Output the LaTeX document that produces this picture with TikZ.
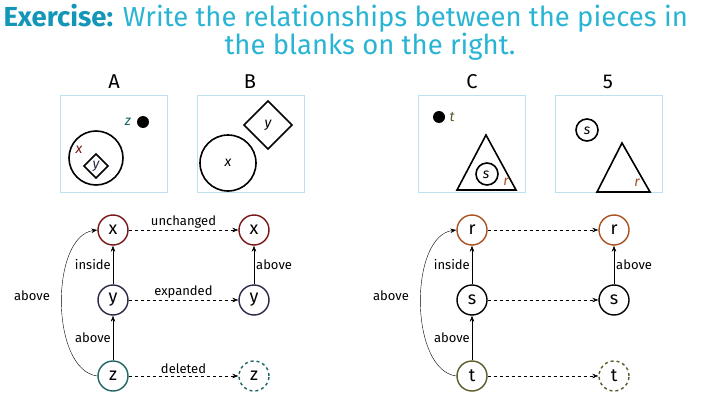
\documentclass[tikz,border=0pt]{standalone}
\usepackage{fontspec}
\setmainfont{Fira Sans}
\usetikzlibrary{arrows.meta}
\definecolor{tl}{RGB}{40,180,210}
\definecolor{tld}{RGB}{20,150,185}
\definecolor{bx}{RGB}{190,225,240}
\definecolor{cx}{RGB}{120,20,20}
\definecolor{cy}{RGB}{40,40,70}
\definecolor{cz}{RGB}{30,100,100}
\definecolor{cr}{RGB}{170,80,30}
\definecolor{ct}{RGB}{90,90,40}
\begin{document}
\begin{tikzpicture}[x=1pt,y=-1pt,
 gn/.style={circle,draw,line width=1.4pt,minimum size=30pt,inner sep=0pt,font=\fontsize{18}{20}\selectfont},
 da/.style={dashed,-{Stealth[length=6pt]},thin},
 sa/.style={-{Stealth[length=6pt]},thin},
 lb/.style={font=\fontsize{13}{15}\selectfont,inner sep=2pt},
 sl/.style={font=\fontsize{14}{16}\selectfont\itshape},
 frame/.style={draw=bx,line width=0.8pt},
 shp/.style={draw,line width=1.6pt}]
\useasboundingbox (0,0) rectangle (720,404);
\node[anchor=west,font=\fontsize{27.5}{30}\selectfont] (t1) at (0,18) {\textcolor{tld}{\bfseries Exercise:} \textcolor{tl}{Write the relationships between the pieces in}};
\node[font=\fontsize{27.5}{30}\selectfont,text=tl] (t2) at (370,47) {the blanks on the right.};
% headers
\foreach \n/\l/\x in {hA/A/114,hB/B/250,hC/C/472,h5/5/608}{\node[font=\fontsize{20}{22}\selectfont] (\n) at (\x,82) {\l};}
\foreach \x in {60,197,418,555}{\draw[frame] (\x,95) rectangle ++(107,97);}
% A
\draw[shp] (96,158) circle (27);
\draw[shp] (96,154) -- (108,166) -- (96,178) -- (84,166) -- cycle;
\node[text=cy,sl] (ay) at (96,166) {y};
\node[text=cx,sl] (ax) at (79,150) {x};
\node[text=cz,sl] (az) at (128,122) {z};
\fill (143,122) circle (6);
% B
\draw[shp] (228,163) circle (28);
\draw[shp] (268,101) -- (292,125) -- (268,149) -- (244,125) -- cycle;
\node[sl] (bx) at (228,163) {x};
\node[sl] (by) at (268,125) {y};
% C
\fill (439,117) circle (6);
\node[text=ct,sl] (ct) at (452,117) {t};
\draw[shp] (486,135) -- (516,190) -- (457,190) -- cycle;
\draw[shp] (487,174) circle (11);
\node[sl] (cs) at (486,175) {s};
\node[text=cr,sl] (cr) at (506,182) {r};
% 5
\draw[shp] (587,130) circle (11);
\node[sl] (fs) at (587,131) {s};
\draw[shp] (622,143) -- (650,192) -- (597,192) -- cycle;
\node[text=cr,sl] (fr) at (637,183) {r};
% graph left
\node[gn,draw=cx] (x1) at (113,230) {x};
\node[gn,draw=cy] (y1) at (113,300) {y};
\node[gn,draw=cz] (z1) at (113,376) {z};
\node[gn,draw=cx] (x2) at (254,230) {x};
\node[gn,draw=cy] (y2) at (254,300) {y};
\node[gn,draw=cz,dashed] (z2) at (254,376) {z};
\draw[da] (x1) -- node[lb,above]{unchanged} (x2);
\draw[da] (y1) -- node[lb,above]{expanded} (y2);
\draw[da] (z1) -- node[lb,above]{deleted} (z2);
\draw[sa] (y1) -- node[lb,left]{inside} (x1);
\draw[sa] (z1) -- node[lb,left]{above} (y1);
\draw[sa] (y2) -- node[lb,right]{above} (x2);
\draw[sa] (z1.west) .. controls (50,370) and (50,236) .. (x1.west);
\node[lb] (la1) at (32,296) {above};
% graph right
\node[gn,draw=cr] (r1) at (472,230) {r};
\node[gn,draw=black] (s1) at (472,300) {s};
\node[gn,draw=ct] (t1n) at (472,376) {t};
\node[gn,draw=cr] (r2) at (614,230) {r};
\node[gn,draw=black] (s2) at (614,300) {s};
\node[gn,draw=ct,dashed] (t2n) at (614,376) {t};
\draw[da] (r1) -- (r2);
\draw[da] (s1) -- (s2);
\draw[da] (t1n) -- (t2n);
\draw[sa] (s1) -- node[lb,left]{inside} (r1);
\draw[sa] (t1n) -- node[lb,left]{above} (s1);
\draw[sa] (s2) -- node[lb,right]{above} (r2);
\draw[sa] (t1n.west) .. controls (409,370) and (409,236) .. (r1.west);
\node[lb] (la2) at (391,296) {above};
\end{tikzpicture}
\end{document}
